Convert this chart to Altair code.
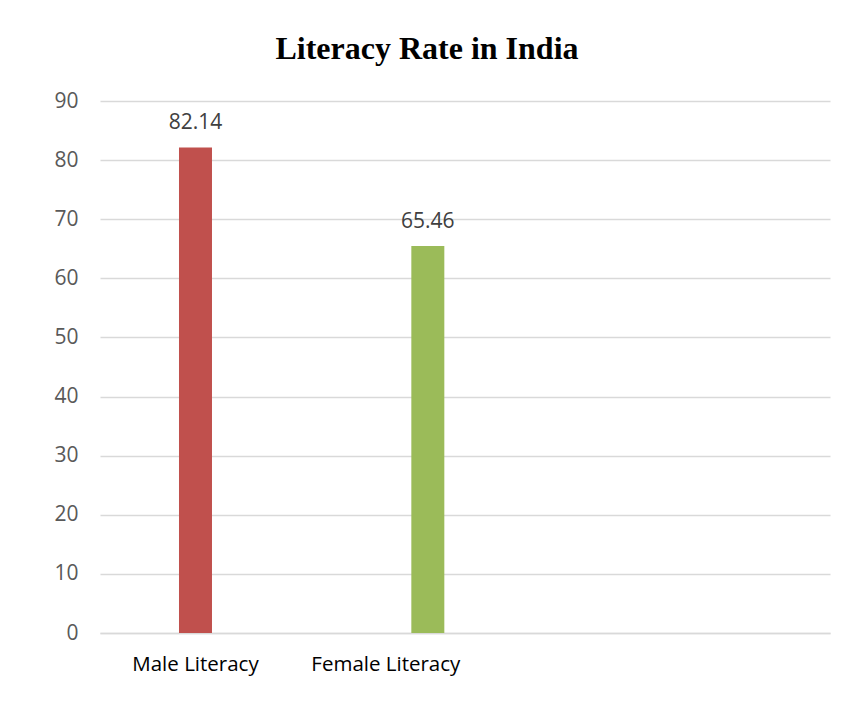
import altair as alt
import pandas as pd

categories = ["Male Literacy", "Female Literacy"]
values = [82.14, 65.46]
bar_colors = ["#C0504D", "#9BBB59"]
y_ticks = [0, 10, 20, 30, 40, 50, 60, 70, 80, 90]
title_text = "Literacy Rate in India"

df = pd.DataFrame({"category": categories, "value": values})

x_enc = alt.X(
    "category:N",
    sort=categories,
    scale=alt.Scale(paddingInner=0.858, paddingOuter=1.0, align=0.17),
    axis=alt.Axis(
        title=None,
        labelAngle=0,
        ticks=False,
        domainColor="#d9d9d9",
        domainWidth=1.5,
        labelFont="Open Sans",
        labelFontSize=20.5,
        labelColor="#000000",
        labelPadding=21,
        labelOffset={"condition": {"test": "datum.value === 'Female Literacy'", "value": -42}, "value": 0},
    ),
)

y_enc = alt.Y(
    "value:Q",
    scale=alt.Scale(domain=[0, 90], nice=False),
    axis=alt.Axis(
        title=None,
        values=y_ticks,
        ticks=False,
        domain=False,
        grid=True,
        gridColor="#d9d9d9",
        gridWidth=1.5,
        labelFont="Open Sans",
        labelFontSize=21,
        labelColor="#595959",
        labelPadding=22,
    ),
)

base = alt.Chart(df).encode(x=x_enc, y=y_enc)

bars = base.mark_bar().encode(
    color=alt.Color("category:N", scale=alt.Scale(domain=categories, range=bar_colors), legend=None)
)

labels = base.mark_text(
    baseline="middle", dy=-24, font="Open Sans", fontSize=21, color="#404040"
).encode(text=alt.Text("value:Q", format=".2f"))

chart = (
    alt.layer(bars, labels)
    .properties(
        width=730,
        height=532,
        title=alt.TitleParams(
            title_text,
            font="Liberation Serif",
            fontSize=32,
            fontWeight="bold",
            color="#000000",
            anchor="middle",
            dx=-38,
            offset=24,
        ),
        autosize=alt.AutoSizeParams(type="none"),
        padding={"left": 92, "top": 93, "right": 5, "bottom": 60},
        background="white",
    )
    .configure_view(stroke=None)
)

chart.save("out.html", embed_options={"renderer": "svg", "actions": False})
